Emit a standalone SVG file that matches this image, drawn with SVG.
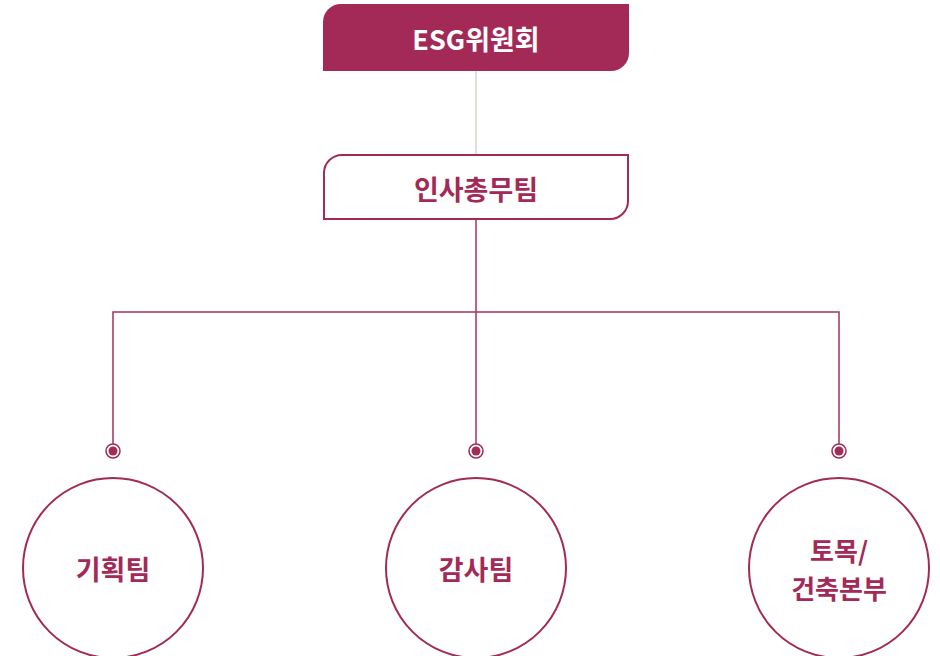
<svg xmlns="http://www.w3.org/2000/svg" width="940" height="656" viewBox="0 0 940 656">
<style>
.t{font-family:"Noto Sans CJK KR","Noto Sans",sans-serif;font-weight:700;text-anchor:middle;dominant-baseline:central;font-size:27px}
.line{stroke:#A6325E;stroke-width:1.5;fill:none}
.node{fill:#fff;stroke:#A32A56;stroke-width:2}
</style>
<rect width="940" height="656" fill="#fff"/>
<g id="connectors">
<line x1="476" y1="71" x2="476" y2="154" stroke="#DAD4C8" stroke-width="1.5"/>
<line class="line" x1="476" y1="220" x2="476" y2="444"/>
<polyline class="line" points="113,444 113,312 839,312 839,444"/>
<g fill="#A32A56" stroke="#A32A56">
<circle cx="113" cy="451" r="7" fill="none" stroke-width="1.5"/><circle cx="113" cy="451" r="4.5" stroke="none" fill="#9E2E58"/>
<circle cx="476" cy="451" r="7" fill="none" stroke-width="1.5"/><circle cx="476" cy="451" r="4.5" stroke="none" fill="#9E2E58"/>
<circle cx="839" cy="451" r="7" fill="none" stroke-width="1.5"/><circle cx="839" cy="451" r="4.5" stroke="none" fill="#9E2E58"/>
</g>
</g>
<g id="esg">
<path d="M341,4 H629 V53 A18,18 0 0 1 611,71 H323 V22 A18,18 0 0 1 341,4 Z" fill="#A32A56"/>
<text class="t" x="476" y="38" fill="#fff">ESG위원회</text>
</g>
<g id="hr">
<path d="M342,155 H628 V201 A18,18 0 0 1 610,219 H324 V173 A18,18 0 0 1 342,155 Z" class="node"/>
<text class="t" x="476" y="188" fill="#A32A56">인사총무팀</text>
</g>
<g id="planning">
<circle cx="113" cy="568" r="90" class="node"/>
<text class="t" x="113" y="568" fill="#A32A56">기획팀</text>
</g>
<g id="audit">
<circle cx="476" cy="568" r="90" class="node"/>
<text class="t" x="476" y="568" fill="#A32A56">감사팀</text>
</g>
<g id="civil">
<circle cx="839" cy="568" r="90" class="node"/>
<text class="t" x="839" y="549" fill="#A32A56" style="font-size:26px">토목/</text>
<text class="t" x="839" y="587" fill="#A32A56" style="font-size:26px">건축본부</text>
</g>
</svg>
